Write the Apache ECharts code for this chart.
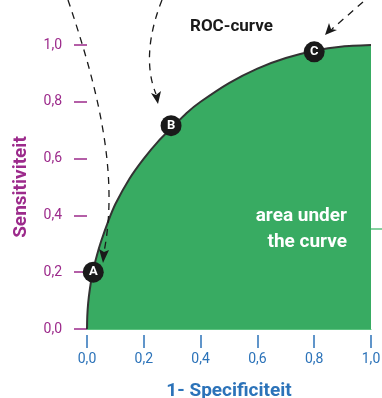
<!DOCTYPE html>
<head>
    <meta charset="utf-8">
    <title>ROC-curve</title>
    <script src="https://cdn.jsdelivr.net/npm/echarts@6/dist/echarts.min.js"></script>
    <style>
        html, body { margin: 0; padding: 0; background: #fff; }
    </style>
</head>
<body>
    <div id="main" style="width:382px;height:398px"></div>
    <script type="text/javascript">
    // curve points (1 - specificity, sensitivity)
    var curveX = [0, 0.001, 0.004, 0.01, 0.02, 0.035, 0.05, 0.075, 0.1, 0.15, 0.2, 0.25, 0.3, 0.35, 0.4, 0.5, 0.6, 0.7, 0.8, 0.9, 1.0];
    var curveY = [0, 0.045, 0.09, 0.14, 0.2, 0.26, 0.31, 0.38, 0.44, 0.53, 0.6, 0.66, 0.71, 0.76, 0.8, 0.866, 0.917, 0.954, 0.98, 0.995, 1.0];
    // labelled points
    var pointNames = ['A', 'B', 'C'];
    var pointX = [0.022, 0.296, 0.8];
    var pointY = [0.2, 0.716, 0.976];

    var purple = '#9c2a8b';
    var blue = '#2c73b9';
    var green = '#38ab62';
    var lightGreen = '#5cc27f';

    var curveData = curveX.map(function (x, i) { return [x, curveY[i]]; });
    var pointData = pointNames.map(function (n, i) { return { name: n, value: [pointX[i], pointY[i]] }; });

    function fmt(v) { return v.toFixed(1).replace('.', ','); }

    var myChart = echarts.init(document.getElementById('main'));
    myChart.setOption({
        animation: false,
        grid: { left: 87, right: 11, top: 45, bottom: 69, outerBoundsMode: 'none', containLabel: false },
        title: {
            text: 'ROC-curve',
            left: 185, top: 13,
            textStyle: { fontFamily: 'Roboto', fontWeight: 'bold', fontSize: 17, color: '#1a1a1a' }
        },
        xAxis: [{
            type: 'value', min: 0, max: 1, interval: 0.2,
            axisLine: { show: true, lineStyle: { color: lightGreen, width: 1 } },
            axisTick: { show: false }, axisLabel: { show: false }, splitLine: { show: false }
        }, {
            type: 'value', min: 0, max: 1, interval: 0.2, position: 'bottom', offset: 6,
            axisLine: { show: false },
            axisTick: { show: true, length: 13, lineStyle: { color: blue, width: 1.5 } },
            axisLabel: { margin: 17, color: blue, fontFamily: 'Roboto', fontSize: 14, formatter: fmt },
            splitLine: { show: false },
            name: '1- Specificiteit', nameLocation: 'middle', nameGap: 47,
            nameTextStyle: { color: blue, fontFamily: 'Roboto', fontWeight: 'bold', fontSize: 19 }
        }],
        yAxis: {
            type: 'value', min: 0, max: 1, interval: 0.2, offset: 8,
            axisLine: { show: false },
            axisTick: { show: true, length: 13, lineStyle: { color: purple, width: 1.5 } },
            axisLabel: { margin: 17, color: purple, fontFamily: 'Roboto', fontSize: 14, formatter: fmt },
            splitLine: { show: false },
            name: 'Sensitiviteit', nameLocation: 'middle', nameGap: 48, nameRotate: 90,
            nameTextStyle: { color: purple, fontFamily: 'Roboto', fontWeight: 'bold', fontSize: 19 }
        },
        series: [{
            type: 'line',
            data: curveData,
            smooth: 0.2,
            symbol: 'none',
            lineStyle: { color: '#333', width: 2 },
            areaStyle: { color: green, opacity: 1 },
            z: 2
        }, {
            type: 'scatter',
            data: pointData,
            symbolSize: 21,
            itemStyle: { color: '#1a1a1a', opacity: 1 },
            label: {
                show: true, position: 'inside', formatter: '{b}',
                color: '#fff', fontFamily: 'Roboto', fontWeight: 'bold', fontSize: 13
            },
            z: 5
        }],
        graphic: [{
            type: 'text', x: 347, y: 203, z: 100,
            style: {
                text: 'area under\nthe curve', fill: '#fff', align: 'right', verticalAlign: 'top',
                font: 'bold 19px Roboto', lineHeight: 26
            }
        }, {
            type: 'line', shape: { x1: 371, y1: 229, x2: 382, y2: 229 }, z: 100,
            style: { stroke: lightGreen, lineWidth: 1.5 }
        }, {
            // arrow to A
            type: 'bezierCurve', z: 100,
            shape: { x1: 68, y1: 0, cpx1: 95, cpy1: 80, cpx2: 120, cpy2: 170, x2: 104, y2: 252 },
            style: { stroke: '#1a1a1a', lineWidth: 1.3, lineDash: [7, 6], fill: null }
        }, {
            type: 'polygon', z: 100, shape: { points: [[103, 263], [99, 249], [104, 252], [109, 250]] },
            style: { fill: '#1a1a1a' }
        }, {
            // arrow to B
            type: 'bezierCurve', z: 100,
            shape: { x1: 162, y1: 0, cpx1: 150, cpy1: 30, cpx2: 144, cpy2: 65, x2: 156, y2: 94 },
            style: { stroke: '#1a1a1a', lineWidth: 1.3, lineDash: [7, 6], fill: null }
        }, {
            type: 'polygon', z: 100, shape: { points: [[158, 104], [151, 93], [156, 95], [161, 91]] },
            style: { fill: '#1a1a1a' }
        }, {
            // arrow to C
            type: 'line', z: 100, shape: { x1: 363, y1: 2, x2: 332, y2: 29 },
            style: { stroke: '#1a1a1a', lineWidth: 1.3, lineDash: [7, 6] }
        }, {
            type: 'polygon', z: 100, shape: { points: [[325, 35], [329, 23], [331, 29], [337, 30]] },
            style: { fill: '#1a1a1a' }
        }]
    });
    </script>
</body>
